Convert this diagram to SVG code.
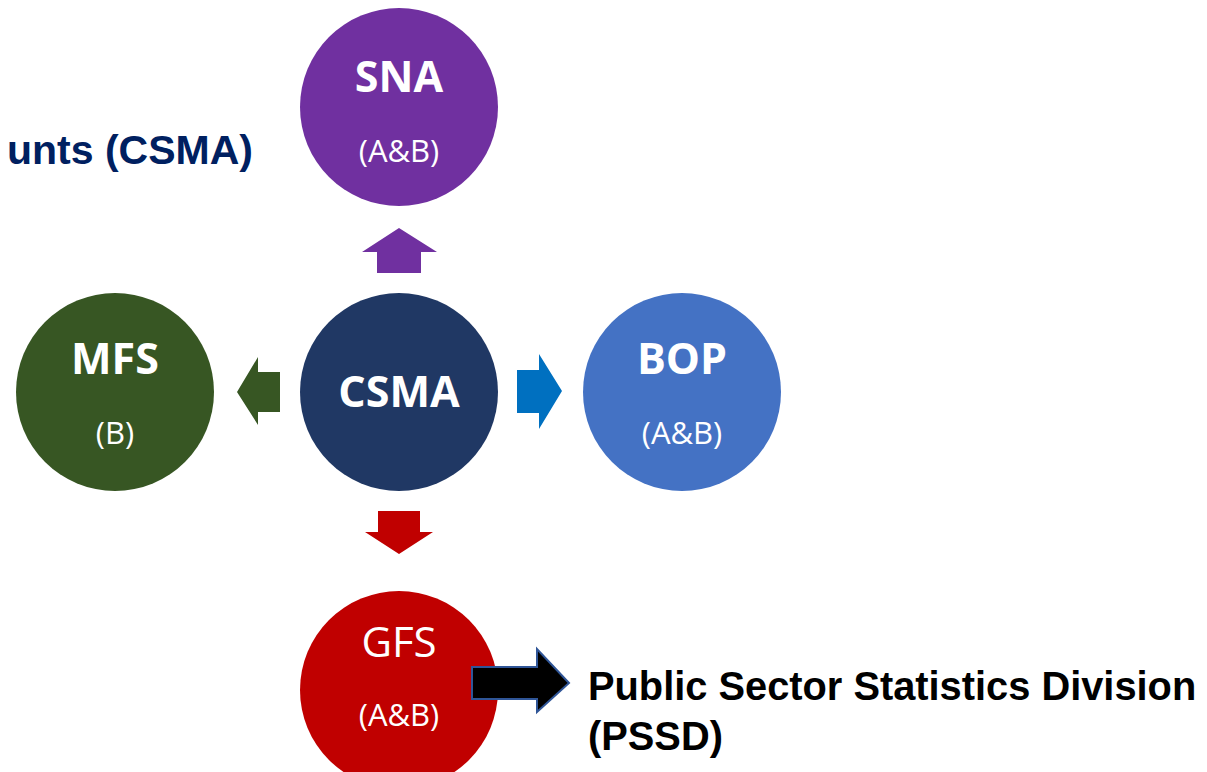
<svg xmlns="http://www.w3.org/2000/svg" width="1207" height="772" viewBox="0 0 1207 772">
<style>
.t{font-family:"Open Sans","Liberation Sans",sans-serif;fill:#fff;text-anchor:middle}
.b{font-weight:bold;font-size:43px}
.s{font-size:31px}
.h{font-family:"Liberation Sans",Arial,sans-serif;font-weight:bold}
</style>
<rect width="1207" height="772" fill="#fff"/>
<text class="h" x="253" y="164" font-size="41" fill="#002060" text-anchor="end">unts (CSMA)</text>
<g id="connectors">
<polygon points="399,228 437,252 421,252 421,273 377,273 377,252 362,252" fill="#7030A0"/>
<polygon points="237,392 258,357 258,372 280,372 280,412 258,412 258,425" fill="#375623"/>
<polygon points="562,391 539,354 539,370 517,370 517,413 539,413 539,429" fill="#0070C0"/>
<polygon points="399,554 433,532 420,532 420,511 378,511 378,532 365,532" fill="#C00000"/>
</g>
<g id="SNA"><circle cx="399" cy="107" r="99" fill="#7030A0"/><text class="t b" x="399" y="92">SNA</text><text class="t s" x="399" y="162">(A&amp;B)</text></g>
<g id="CSMA"><circle cx="399" cy="392" r="99" fill="#203864"/><text class="t b" x="399" y="407" font-size="45">CSMA</text></g>
<g id="MFS"><circle cx="115" cy="392" r="99" fill="#375623"/><text class="t b" x="115" y="374">MFS</text><text class="t s" x="115" y="444">(B)</text></g>
<g id="BOP"><circle cx="682" cy="392" r="99" fill="#4472C4"/><text class="t b" x="682" y="374">BOP</text><text class="t s" x="682" y="444">(A&amp;B)</text></g>
<g id="GFS"><circle cx="399" cy="690" r="99" fill="#C00000"/><text class="t" x="399" y="657" font-size="42">GFS</text><text class="t s" x="399" y="726">(A&amp;B)</text></g>
<g id="PSSD">
<polygon points="569,683 537,649 537,667 472,667 472,699 537,699 537,712" fill="#000" stroke="#2F5597" stroke-width="2"/>
<text class="h" x="588" y="700" font-size="39.8" fill="#000">Public Sector Statistics Division</text>
<text class="h" x="588" y="750" font-size="39.8" fill="#000">(PSSD)</text>
</g>
</svg>
